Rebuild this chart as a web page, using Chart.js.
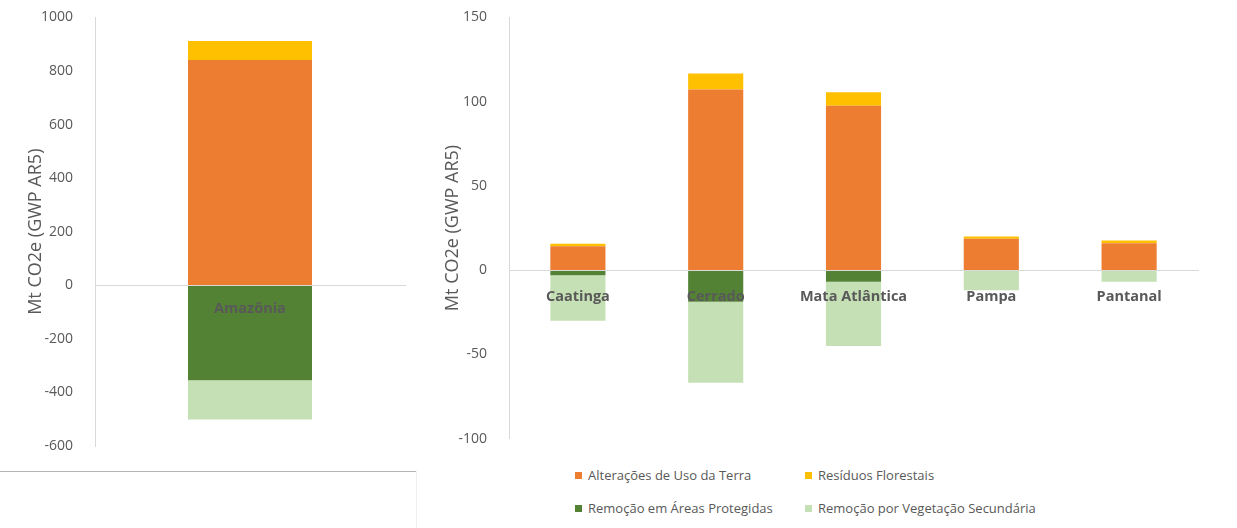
<!DOCTYPE html>
<html>
<head>
<meta charset="utf-8">
<script src="https://cdn.jsdelivr.net/npm/chart.js@4.4.1/dist/chart.umd.min.js"></script>
<style>
  html, body { margin: 0; padding: 0; background: #ffffff; }
  body { width: 1237px; height: 528px; position: relative; overflow: hidden; font-family: "Open Sans", sans-serif; }
  #leftWrap { position: absolute; left: 0; top: -5px; width: 420px; height: 475px; }
  #rightWrap { position: absolute; left: 438px; top: -5px; width: 799px; height: 466px; }
  #frameH { position: absolute; left: 0; top: 471px; width: 416px; height: 1px; background: #b5b5b5; }
  #frameV { position: absolute; left: 416px; top: 471px; width: 1px; height: 57px; background: #f0f0f0; }
  #legend { position: absolute; left: 575px; top: 465px; display: grid; grid-template-columns: 230px 260px; row-gap: 13px; }
  .lg-item { display: flex; align-items: center; height: 20px; font-size: 13px; color: #595959; white-space: nowrap; }
  .lg-box { width: 7px; height: 7px; margin-right: 6px; flex: none; }
</style>
</head>
<body>
<div id="leftWrap"><canvas id="leftChart" width="420" height="475"></canvas></div>
<div id="rightWrap"><canvas id="rightChart" width="799" height="466"></canvas></div>
<div id="frameH"></div>
<div id="frameV"></div>
<div id="legend"></div>
<script>
// ---- Data ----
const seriesNames = ['Alterações de Uso da Terra', 'Resíduos Florestais', 'Remoção em Áreas Protegidas', 'Remoção por Vegetação Secundária'];
const seriesColors = ['#ED7D31', '#FFC000', '#548235', '#C5E0B4'];
const axisTitle = 'Mt CO2e (GWP AR5)';

// Left panel: Amazônia
const leftCategories = ['Amazônia'];
const leftAlteracoes = [841];
const leftResiduos = [71];
const leftProtegidas = [-355];
const leftSecundaria = [-146];
const leftTicks = { min: -600, max: 1000, step: 200 };

// Right panel: other biomes
const rightCategories = ['Caatinga', 'Cerrado', 'Mata Atlântica', 'Pampa', 'Pantanal'];
const rightAlteracoes = [14.2, 107.2, 97.5, 18.6, 16.0];
const rightResiduos = [1.4, 9.5, 8.1, 1.4, 1.6];
const rightProtegidas = [-3.0, -18.8, -6.9, 0, 0];
const rightSecundaria = [-27.0, -48.0, -38.1, -11.9, -6.9];
const rightTicks = { min: -100, max: 150, step: 50 };

// ---- Chart building ----
const textColor = '#595959';
const lineColor = '#d9d9d9';

function makeDatasets(values) {
  return values.map((v, i) => ({
    label: seriesNames[i],
    data: v,
    backgroundColor: seriesColors[i],
    borderWidth: 0,
    categoryPercentage: 1.0,
    barPercentage: 0.4
  }));
}

function makeOptions(ticks, yWidth, padding, labelPad) {
  return {
    responsive: false,
    animation: false,
    layout: { padding: padding },
    plugins: { legend: { display: false }, tooltip: { enabled: false } },
    scales: {
      x: {
        stacked: true,
        position: { y: 0 },
        grid: { display: false },
        border: { display: true, color: lineColor, width: 1, z: 1 },
        ticks: { z: 2, padding: labelPad, color: textColor, font: { family: 'Open Sans', size: 14.5, weight: 'bold' } }
      },
      y: {
        stacked: true,
        min: ticks.min,
        max: ticks.max,
        afterFit: (s) => { s.width = yWidth; },
        grid: { display: false },
        border: { display: true, color: lineColor, width: 1 },
        ticks: { stepSize: ticks.step, padding: 14, color: textColor, font: { family: 'Open Sans', size: 14 },
                 callback: (v) => String(v) },
        title: { display: true, text: axisTitle, color: textColor, font: { family: 'Open Sans', size: 18 } }
      }
    }
  };
}

const leftChart = new Chart(document.getElementById('leftChart'), {
  type: 'bar',
  data: { labels: leftCategories, datasets: makeDatasets([leftAlteracoes, leftResiduos, leftProtegidas, leftSecundaria]) },
  options: makeOptions(leftTicks, 74, { left: 21, right: 15, top: 17, bottom: 24 }, 7)
});

const rightChart = new Chart(document.getElementById('rightChart'), {
  type: 'bar',
  data: { labels: rightCategories, datasets: makeDatasets([rightAlteracoes, rightResiduos, rightProtegidas, rightSecundaria]) },
  options: makeOptions(rightTicks, 71, { left: 0, right: 39, top: 17, bottom: 11 }, 10)
});

// HTML legend built from the chart's own legend items
const legendEl = document.getElementById('legend');
const items = Chart.defaults.plugins.legend.labels.generateLabels(rightChart);
items.forEach(it => {
  const d = document.createElement('div');
  d.className = 'lg-item';
  const b = document.createElement('span');
  b.className = 'lg-box';
  b.style.background = it.fillStyle;
  const t = document.createElement('span');
  t.textContent = it.text;
  d.appendChild(b); d.appendChild(t);
  legendEl.appendChild(d);
});
</script>
</body>
</html>
